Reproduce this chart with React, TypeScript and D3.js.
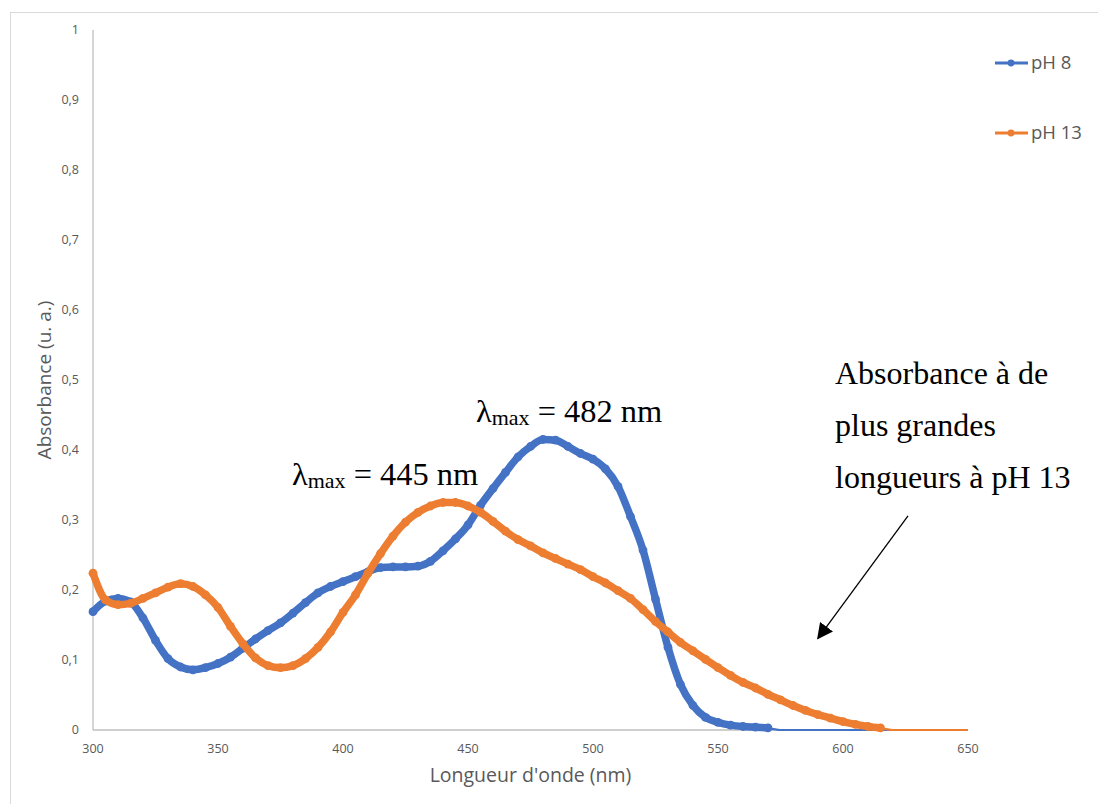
import React from "react";
import * as d3 from "d3";

// longueur d'onde (nm), pas de 5 nm
const wavelength = [
  300, 305, 310, 315, 320, 325, 330, 335, 340, 345,
  350, 355, 360, 365, 370, 375, 380, 385, 390, 395,
  400, 405, 410, 415, 420, 425, 430, 435, 440, 445,
  450, 455, 460, 465, 470, 475, 480, 485, 490, 495,
  500, 505, 510, 515, 520, 525, 530, 535, 540, 545,
  550, 555, 560, 565, 570, 575, 580, 585, 590, 595,
  600, 605, 610, 615, 620, 625, 630, 635, 640, 645,
  650,
];

const absPH8 = [
  0.169, 0.184, 0.188, 0.183, 0.160, 0.128, 0.102, 0.090, 0.086, 0.089,
  0.095, 0.104, 0.117, 0.130, 0.142, 0.153, 0.167, 0.182, 0.196, 0.205,
  0.212, 0.219, 0.226, 0.232, 0.233, 0.233, 0.234, 0.241, 0.256, 0.273,
  0.293, 0.321, 0.345, 0.368, 0.390, 0.405, 0.415, 0.414, 0.405, 0.395,
  0.387, 0.373, 0.348, 0.305, 0.257, 0.187, 0.118, 0.065, 0.035, 0.018,
  0.011, 0.007, 0.005, 0.004, 0.003, 0, 0, 0, 0, 0,
  0, 0, 0, 0, 0, 0, 0, 0, 0, 0,
  0,
];

const absPH13 = [
  0.224, 0.186, 0.179, 0.181, 0.188, 0.196, 0.204, 0.209, 0.205, 0.193,
  0.175, 0.148, 0.123, 0.103, 0.092, 0.089, 0.092, 0.102, 0.118, 0.140,
  0.168, 0.193, 0.224, 0.252, 0.277, 0.297, 0.311, 0.320, 0.325, 0.325,
  0.320, 0.311, 0.298, 0.284, 0.272, 0.263, 0.253, 0.245, 0.237, 0.229,
  0.219, 0.210, 0.199, 0.188, 0.172, 0.155, 0.140, 0.125, 0.113, 0.101,
  0.089, 0.078, 0.068, 0.060, 0.051, 0.043, 0.035, 0.028, 0.022, 0.017,
  0.012, 0.008, 0.005, 0.003, 0, 0, 0, 0, 0, 0,
  0,
];

const xTicks = [300, 350, 400, 450, 500, 550, 600, 650];
const yTicks = [0, 0.1, 0.2, 0.3, 0.4, 0.5, 0.6, 0.7, 0.8, 0.9, 1];

const seriesNames = ["pH 8", "pH 13"];
const seriesColors = ["#4472C4", "#ED7D31"];

const W = 1098;
const H = 804;
const margin = { left: 93, right: 130, top: 30, bottom: 74 };

const fr = d3.formatLocale({
  decimal: ",",
  thousands: " ",
  grouping: [3],
  currency: ["", " €"],
});
const fmt = fr.format("~g");

const sans = "'Open Sans', 'Liberation Sans', sans-serif";
const serif = "'Liberation Serif', 'Times New Roman', serif";

export default function App() {
  const x = d3
    .scaleLinear()
    .domain([300, 650])
    .range([margin.left, W - margin.right]);
  const y = d3
    .scaleLinear()
    .domain([0, 1])
    .range([H - margin.bottom, margin.top]);

  const line = d3
    .line<[number, number]>()
    .x((d) => x(d[0]))
    .y((d) => y(d[1]))
    .curve(d3.curveMonotoneX);

  const series = [absPH8, absPH13].map((vals, i) => {
    const pts = wavelength.map((w, j) => [w, vals[j]] as [number, number]);
    // points mesurés (non nuls) + le reste à zéro
    let last = 0;
    pts.forEach((p, j) => {
      if (p[1] > 0) last = j;
    });
    return {
      name: seriesNames[i],
      color: seriesColors[i],
      measured: pts.slice(0, last + 1),
      tail: pts.slice(last),
    };
  });

  const x0 = x(300);
  const x1 = x(650);
  const yb = y(0);

  return (
    <svg
      width={W}
      height={H}
      style={{ position: "absolute", left: 0, top: 0, background: "#fff" }}
    >
      <defs>
        <marker
          id="arrow"
          viewBox="0 0 10 10"
          refX="9"
          refY="5"
          markerWidth="16"
          markerHeight="16"
          markerUnits="userSpaceOnUse"
          orient="auto"
        >
          <path d="M0,0 L10,5 L0,10 z" fill="#000" />
        </marker>
      </defs>
      <rect x={10.5} y={12.5} width={1100} height={820} fill="#fff" stroke="#d9d9d9" />

      {/* axes */}
      <line x1={x0} x2={x0} y1={y(1)} y2={yb} stroke="#bfbfbf" strokeWidth={1.3} />
      <line x1={x0} x2={x1} y1={yb} y2={yb} stroke="#bfbfbf" strokeWidth={1.3} />

      {yTicks.map((t) => (
        <text
          key={"y" + t}
          x={79}
          y={y(t)}
          dy="0.35em"
          textAnchor="end"
          fontFamily={sans}
          fontSize={12.5}
          fill="#595959"
        >
          {fmt(t)}
        </text>
      ))}
      {xTicks.map((t) => (
        <text
          key={"x" + t}
          x={x(t)}
          y={yb + 19}
          dy="0.35em"
          textAnchor="middle"
          fontFamily={sans}
          fontSize={12.5}
          fill="#595959"
        >
          {t}
        </text>
      ))}

      <text
        x={(x0 + x1) / 2}
        y={yb + 45}
        dy="0.35em"
        textAnchor="middle"
        fontFamily={sans}
        fontSize={19.5}
        fill="#595959"
      >
        Longueur d'onde (nm)
      </text>
      <text
        transform={`translate(44,${(y(1) + yb) / 2}) rotate(-90)`}
        dy="0.35em"
        textAnchor="middle"
        fontFamily={sans}
        fontSize={19}
        fill="#595959"
      >
        Absorbance (u. a.)
      </text>

      {/* séries */}
      {series.map((s) => (
        <g key={s.name}>
          <path d={line(s.tail) || ""} fill="none" stroke={s.color} strokeWidth={2.2} />
          <path
            d={line(s.measured) || ""}
            fill="none"
            stroke={s.color}
            strokeWidth={7.5}
            strokeLinejoin="round"
            strokeLinecap="round"
          />
          {s.measured.map((p, j) => (
            <circle key={j} cx={x(p[0])} cy={y(p[1])} r={4.4} fill={s.color} />
          ))}
        </g>
      ))}

      {/* légende */}
      {series.map((s, i) => (
        <g key={"lg" + s.name} transform={`translate(995,${63 + i * 70})`}>
          <line x1={0} x2={33} y1={0} y2={0} stroke={s.color} strokeWidth={3} />
          <circle cx={16} cy={0} r={3.4} fill={s.color} />
          <text x={36} y={0} dy="0.35em" fontFamily={sans} fontSize={18.5} fill="#595959">
            {s.name}
          </text>
        </g>
      ))}

      {/* annotations */}
      <text x={476} y={422} fontFamily={serif} fontSize={32.4} fill="#000">
        λ<tspan fontSize={22} dy={3}>max</tspan>
        <tspan dy={-3}> = 482 nm</tspan>
      </text>
      <text x={292} y={485} fontFamily={serif} fontSize={32.4} fill="#000">
        λ<tspan fontSize={22} dy={3}>max</tspan>
        <tspan dy={-3}> = 445 nm</tspan>
      </text>
      {["Absorbance à de", "plus grandes", "longueurs à pH 13"].map((l, i) => (
        <text key={l} x={835} y={384 + i * 52} fontFamily={serif} fontSize={32} fill="#000">
          {l}
        </text>
      ))}
      <line
        x1={x(626)}
        y1={y(0.306)}
        x2={x(590)}
        y2={y(0.131)}
        stroke="#000"
        strokeWidth={1.3}
        markerEnd="url(#arrow)"
      />
    </svg>
  );
}
